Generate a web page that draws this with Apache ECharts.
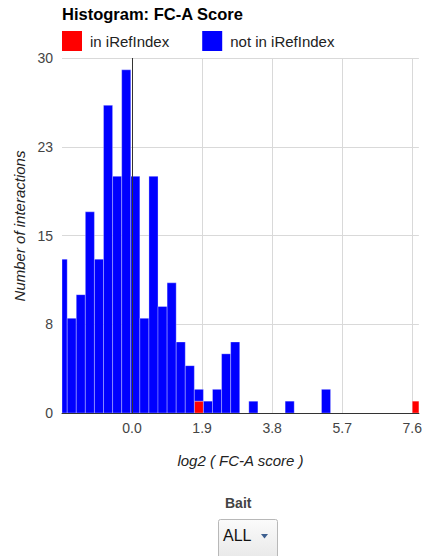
<!DOCTYPE html>
<html>
<head>
<meta charset="utf-8">
<script src="https://cdn.jsdelivr.net/npm/echarts@6/dist/echarts.min.js"></script>
<style>
html,body{margin:0;padding:0;background:#fff;}
#chart{width:425px;height:556px;}
</style>
</head>
<body>
<div id="chart"></div>
<script>
// Histogram bins (lower edges, log2 FC-A score)
var binStarts = [-2.005, -1.759, -1.513, -1.267, -1.020, -0.774, -0.528, -0.281, -0.035, 0.211,
                 0.458, 0.704, 0.951, 1.197, 1.443, 1.689, 1.936, 2.182, 2.428, 2.674,
                 2.921, 3.167, 3.413, 3.660, 3.906, 4.152, 4.398, 4.645, 4.891, 5.138,
                 5.384, 5.630, 5.877, 6.123, 6.369, 6.615, 6.862, 7.108, 7.354, 7.600];
var binWidth = 0.2463;
var inIRefIndex = [0,0,0,0,0,0,0,0,0,0, 0,0,0,0,0,1,0,0,0,0, 0,0,0,0,0,0,0,0,0,0, 0,0,0,0,0,0,0,0,0,1];
var notInIRefIndex = [13,8,10,17,13,26,20,29,20,8, 20,9,11,6,4,1,1,2,5,6, 0,1,0,0,0,1,0,0,0,2, 0,0,0,0,0,0,0,0,0,0];
var seriesNames = ['in iRefIndex', 'not in iRefIndex'];
var xTicks = [0.0, 1.9, 3.8, 5.7, 7.6];
var yTicks = [0, 8, 15, 23, 30];

var FONT = '"Liberation Sans", Arial, sans-serif';

function buildData(base, vals) {
  var out = [];
  for (var i = 0; i < binStarts.length; i++) {
    var b = base ? base[i] : 0;
    out.push([binStarts[i], binStarts[i] + binWidth, b, b + vals[i]]);
  }
  return out;
}

function renderBar(params, api) {
  var x0 = api.value(0), x1 = api.value(1), y0 = api.value(2), y1 = api.value(3);
  if (!(y1 > y0)) return;
  var p0 = api.coord([x0, y1]);
  var p1 = api.coord([x1, y0]);
  var cs = params.coordSys;
  var rect = echarts.graphic.clipRectByRect(
    {x: p0[0], y: p0[1], width: p1[0] - p0[0], height: p1[1] - p0[1]},
    {x: cs.x, y: cs.y, width: cs.width, height: cs.height});
  if (!rect) return;
  return {
    type: 'rect',
    shape: rect,
    style: {fill: api.visual('color'), stroke: 'rgba(255,255,255,0.3)', lineWidth: 1}
  };
}

var chart = echarts.init(document.getElementById('chart'), null, {renderer: 'svg'});
chart.setOption({
  animation: false,
  textStyle: {fontFamily: FONT},
  title: {
    text: 'Histogram: FC-A Score',
    left: 62, top: 5, padding: 0,
    textStyle: {fontSize: 16.5, fontWeight: 'bold', color: '#000', fontFamily: FONT}
  },
  legend: {
    left: 62, top: 31,
    icon: 'rect',
    itemWidth: 20, itemHeight: 20,
    itemGap: 33,
    padding: 0,
    data: seriesNames,
    textStyle: {fontSize: 15, color: '#222', fontFamily: FONT, padding: [0, 0, 0, 3]}
  },
  grid: {left: 62, right: 4, top: 58, bottom: 143, containLabel: false},
  xAxis: {
    type: 'value',
    min: -1.9, max: 7.78, interval: 1.9,
    name: 'log2 ( FC-A score )',
    nameLocation: 'middle', nameGap: 40,
    nameTextStyle: {fontSize: 15, fontStyle: 'italic', color: '#222', fontFamily: FONT},
    axisLine: {show: true, lineStyle: {color: '#333', width: 1}},
    axisTick: {show: false},
    axisLabel: {
      showMinLabel: false, showMaxLabel: false,
      margin: 8, fontSize: 14, color: '#444', fontFamily: FONT,
      formatter: function (v) {
        for (var i = 0; i < xTicks.length; i++) {
          if (Math.abs(v - xTicks[i]) < 1e-6) return xTicks[i].toFixed(1);
        }
        return '';
      }
    },
    splitLine: {show: true, showMinLine: false, showMaxLine: false, lineStyle: {color: '#d9d9d9', width: 1}}
  },
  yAxis: {
    type: 'value',
    min: 0, max: 30, interval: 7.5,
    name: 'Number of interactions',
    nameLocation: 'middle', nameGap: 34,
    nameTextStyle: {fontSize: 15, fontStyle: 'italic', color: '#222', fontFamily: FONT, padding: [0, 0, 0, 19]},
    axisLine: {show: false},
    axisTick: {show: false},
    axisLabel: {
      margin: 9, fontSize: 14, color: '#444', fontFamily: FONT,
      formatter: function (v) {
        var best = yTicks[0];
        for (var i = 0; i < yTicks.length; i++) {
          if (Math.abs(yTicks[i] - v) < Math.abs(best - v)) best = yTicks[i];
        }
        return String(best);
      }
    },
    splitLine: {show: true, lineStyle: {color: '#d9d9d9', width: 1}}
  },
  series: [
    {
      name: seriesNames[0],
      type: 'custom',
      clip: true,
      itemStyle: {color: '#ff0000'},
      encode: {x: [0, 1], y: [2, 3]},
      renderItem: renderBar,
      data: buildData(null, inIRefIndex),
      z: 2
    },
    {
      name: seriesNames[1],
      type: 'custom',
      clip: true,
      itemStyle: {color: '#0000ff'},
      encode: {x: [0, 1], y: [2, 3]},
      renderItem: renderBar,
      data: buildData(inIRefIndex, notInIRefIndex),
      z: 2,
      markLine: {
        silent: true,
        symbol: 'none',
        label: {show: false},
        lineStyle: {color: '#333', width: 1, type: 'solid'},
        data: [{xAxis: 0}],
        z: 5
      }
    }
  ],
  graphic: [
    {
      type: 'text',
      left: 225, top: 496,
      style: {text: 'Bait', font: 'bold 14px ' + FONT, fill: '#444'}
    },
    {
      type: 'rect',
      left: 218, top: 519,
      shape: {width: 59, height: 44, r: 2},
      style: {
        fill: new echarts.graphic.LinearGradient(0, 0, 0, 1, [
          {offset: 0, color: '#fbfbfb'}, {offset: 1, color: '#e6e6e6'}
        ]),
        stroke: '#b8b8b8', lineWidth: 1
      }
    },
    {
      type: 'text',
      left: 223, top: 527,
      style: {text: 'ALL', font: '16px ' + FONT, fill: '#111'}
    },
    {
      type: 'polygon',
      shape: {points: [[261, 534], [268, 534], [264.5, 538.5]]},
      style: {fill: '#3d5f8f'}
    }
  ]
});
</script>
</body>
</html>
